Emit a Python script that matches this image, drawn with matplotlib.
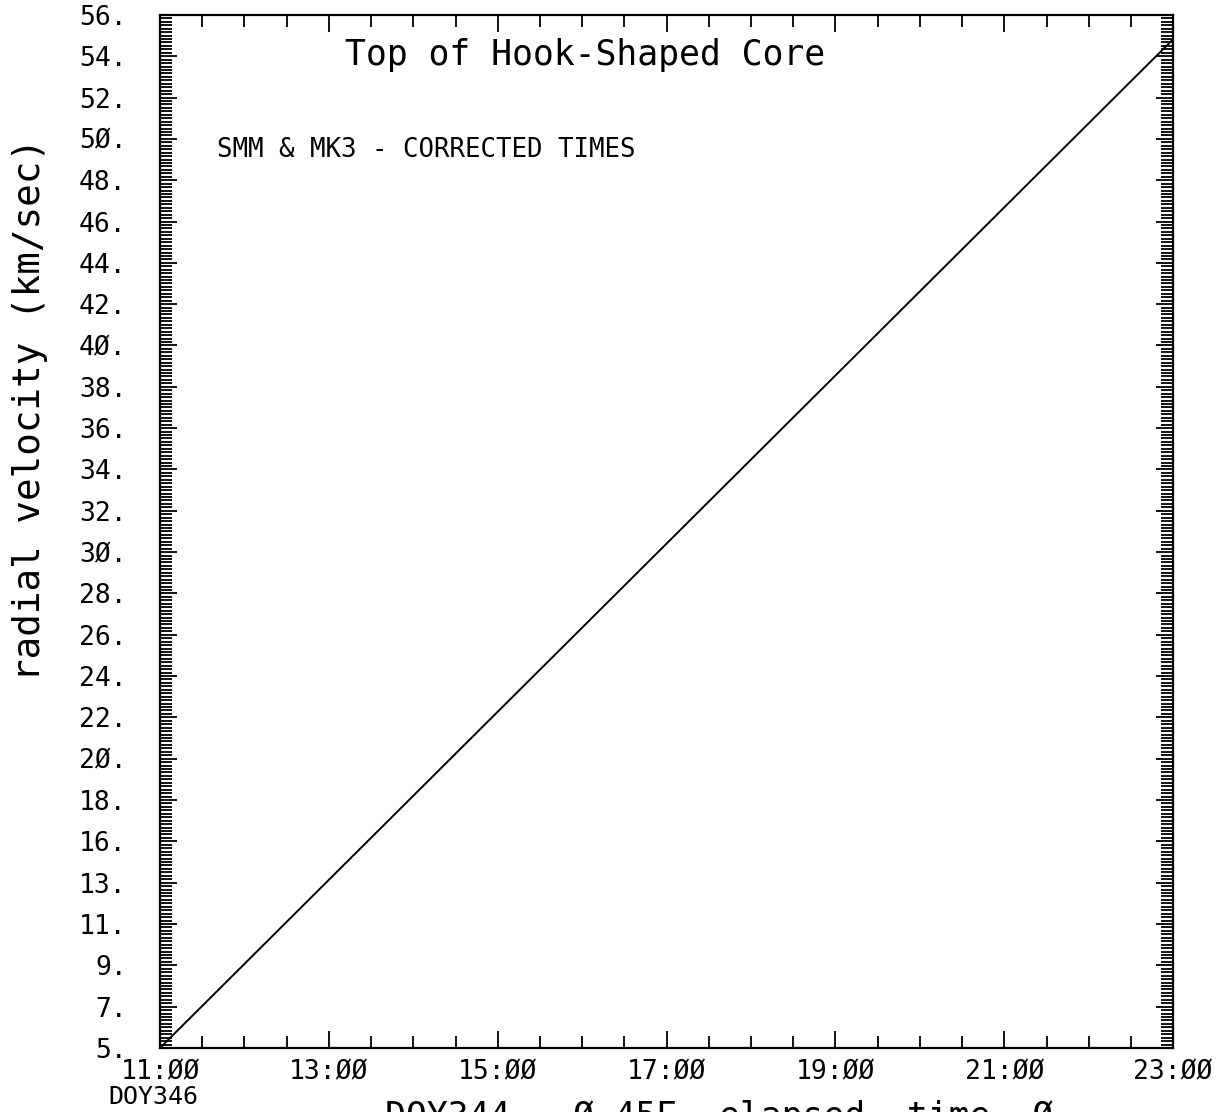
import matplotlib
matplotlib.use("Agg")
import matplotlib.pyplot as plt
from matplotlib.ticker import FixedLocator, AutoMinorLocator, MultipleLocator
import numpy as np

# axes ranges / tick labels
hour_ticks = [11, 13, 15, 17, 19, 21, 23]
hour_labels = ["11:ØØ", "13:ØØ", "15:ØØ", "17:ØØ", "19:ØØ", "21:ØØ", "23:ØØ"]
vel_labels = ["5.", "7.", "9.", "11.", "13.", "16.", "18.", "2Ø.", "22.", "24.",
              "26.", "28.", "3Ø.", "32.", "34.", "36.", "38.", "4Ø.", "42.", "44.",
              "46.", "48.", "5Ø.", "52.", "54.", "56."]

# the fitted line (hours, km/sec)
t_hours = [11.0, 17.0, 23.0]
velocity = [5.0, 29.9, 54.8]

plt.rcParams['font.family'] = ['DejaVu Sans Mono', 'DejaVu Sans']

fig = plt.figure(figsize=(12.31, 11.12), dpi=100)
ax = fig.add_axes([0.130, 0.0576, 0.823, 0.929])

ax.plot(t_hours, velocity, color='black', lw=1.4)

ax.set_xlim(11, 23)
ax.set_ylim(5, 56)

ax.xaxis.set_major_locator(FixedLocator(hour_ticks))
ax.set_xticklabels(hour_labels)
ax.xaxis.set_minor_locator(MultipleLocator(0.5))

ax.yaxis.set_major_locator(FixedLocator(np.linspace(5, 56, len(vel_labels))))
ax.set_yticklabels(vel_labels)
ax.yaxis.set_minor_locator(AutoMinorLocator(12))

ax.tick_params(which='both', direction='in', top=True, right=True, width=1.3, colors='black')
ax.tick_params(which='major', length=12)
ax.tick_params(which='minor', length=8.5)
ax.tick_params(axis='x', which='major', labelsize=19, pad=8)
ax.tick_params(axis='y', which='major', labelsize=19, pad=24)

for s in ax.spines.values():
    s.set_linewidth(1.6)

ax.text(0.42, 0.961, "Top of Hook-Shaped Core", transform=ax.transAxes,
        fontsize=25, ha='center', va='center')
ax.text(0.056, 0.869, "SMM & MK3 - CORRECTED TIMES", transform=ax.transAxes,
        fontsize=18.5, ha='left', va='center')

fig.text(0.024, 0.632, "radial velocity (km/sec)", rotation=90,
         fontsize=27, ha='center', va='center')
fig.text(0.088, 0.0135, "DOY346", fontsize=18, ha='left', va='center')
fig.text(0.313, 0.011, "DOY344 - Ø.45E  elapsed  time  Ø", fontsize=25,
         ha='left', va='top')

fig.savefig("out.png", dpi=100)
